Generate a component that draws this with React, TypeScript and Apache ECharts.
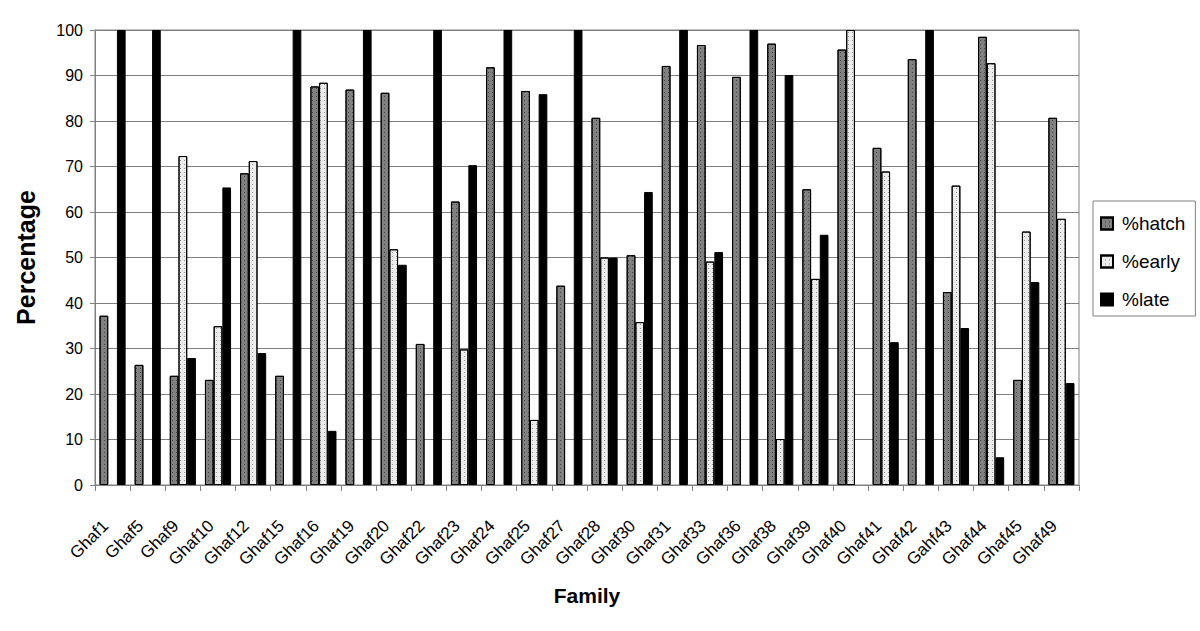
import React, { useEffect, useRef } from "react";
import * as echarts from "echarts";

const families = [
  "Ghaf1", "Ghaf5", "Ghaf9", "Ghaf10", "Ghaf12", "Ghaf15", "Ghaf16", "Ghaf19",
  "Ghaf20", "Ghaf22", "Ghaf23", "Ghaf24", "Ghaf25", "Ghaf27", "Ghaf28", "Ghaf30",
  "Ghaf31", "Ghaf33", "Ghaf36", "Ghaf38", "Ghaf39", "Ghaf40", "Ghaf41", "Ghaf42",
  "Gahf43", "Ghaf44", "Ghaf45", "Ghaf49",
];

const hatch = [
  37.2, 26.4, 24.0, 23.1, 68.5, 24.0, 87.6, 86.9,
  86.2, 31.0, 62.3, 91.8, 86.6, 43.8, 80.7, 50.5,
  92.1, 96.7, 89.7, 97.0, 65.0, 95.7, 74.1, 93.6,
  42.4, 98.5, 23.1, 80.7,
];

const early = [
  null, null, 72.3, 34.9, 71.2, null, 88.4, null,
  51.8, null, 29.8, null, 14.3, null, 50.0, 35.8,
  null, 49.1, null, 10.1, 45.3, 100, 68.9, null,
  65.8, 92.7, 55.7, 58.5,
];

const late = [
  100, 100, 27.9, 65.4, 29.0, 100, 11.9, 100,
  48.4, 100, 70.3, 100, 85.9, 100, 50.0, 64.4,
  100, 51.2, 100, 90.1, 55.0, null, 31.4, 100,
  34.5, 6.1, 44.6, 22.4,
];

const yTicks = { min: 0, max: 100, interval: 10 };

const FONT = "'Liberation Sans', Arial, sans-serif";

export default function App() {
  const ref = useRef<HTMLDivElement>(null);

  useEffect(() => {
    if (!ref.current) return;
    const chart = echarts.init(ref.current, undefined, { renderer: "svg" });
    const dotDecal = (color: string) => ({
      symbol: "rect",
      symbolSize: 1,
      dashArrayX: [1, 3],
      dashArrayY: [1, 3],
      color,
    });
    chart.setOption({
      animation: false,
      backgroundColor: "#ffffff",
      textStyle: { fontFamily: FONT },
      grid: {
        left: 95,
        right: 121,
        top: 30,
        bottom: 146,
        show: true,
        borderColor: "#808080",
        borderWidth: 1,
      },
      legend: {
        orient: "vertical",
        left: 1093,
        top: 201,
        padding: [13, 10, 7, 7],
        itemGap: 19,
        itemWidth: 12,
        itemHeight: 12,
        borderColor: "#808080",
        borderWidth: 1,
        textStyle: { fontSize: 19, color: "#000", fontFamily: FONT, padding: [0, 0, 0, 4] },
        data: [
          { name: "%hatch", icon: "rect" },
          { name: "%early", icon: "rect" },
          { name: "%late", icon: "rect" },
        ],
      },
      xAxis: {
        type: "category",
        data: families,
        name: "Family",
        nameLocation: "middle",
        nameGap: 100,
        nameTextStyle: { fontSize: 21, fontWeight: "bold", color: "#000", fontFamily: FONT },
        axisLine: { lineStyle: { color: "#808080" } },
        axisTick: { show: true, length: 6, lineStyle: { color: "#808080" } },
        axisLabel: {
          rotate: 45,
          interval: 0,
          fontSize: 17,
          color: "#000",
          margin: 31,
          padding: [0, 10, 0, 0],
          fontFamily: FONT,
        },
      },
      yAxis: {
        type: "value",
        min: yTicks.min,
        max: yTicks.max,
        interval: yTicks.interval,
        name: "Percentage",
        nameLocation: "middle",
        nameGap: 57,
        nameTextStyle: { fontSize: 25, fontWeight: "bold", color: "#000", fontFamily: FONT },
        axisLine: { show: true, lineStyle: { color: "#808080" } },
        axisTick: { show: true, length: 5, lineStyle: { color: "#808080" } },
        axisLabel: { fontSize: 16, color: "#000", margin: 12, fontFamily: FONT },
        splitLine: { lineStyle: { color: "#808080", width: 1 } },
      },
      series: [
        {
          name: "%hatch",
          type: "bar",
          data: hatch,
          barWidth: 8.7,
          barGap: "0%",
          itemStyle: {
            color: "#808080",
            borderColor: "#000",
            borderWidth: 1,
            decal: dotDecal("rgba(0,0,0,0.45)"),
          },
        },
        {
          name: "%early",
          type: "bar",
          data: early,
          barWidth: 8.7,
          barGap: "0%",
          itemStyle: {
            color: "#ebebeb",
            borderColor: "#000",
            borderWidth: 1,
            decal: dotDecal("rgba(110,110,110,0.7)"),
          },
        },
        {
          name: "%late",
          type: "bar",
          data: late,
          barWidth: 8.7,
          barGap: "0%",
          itemStyle: { color: "#000000", borderColor: "#000", borderWidth: 1 },
        },
      ],
    });
    return () => chart.dispose();
  }, []);

  return <div ref={ref} style={{ width: 1200, height: 631, position: "absolute", left: 0, top: 0 }} />;
}
